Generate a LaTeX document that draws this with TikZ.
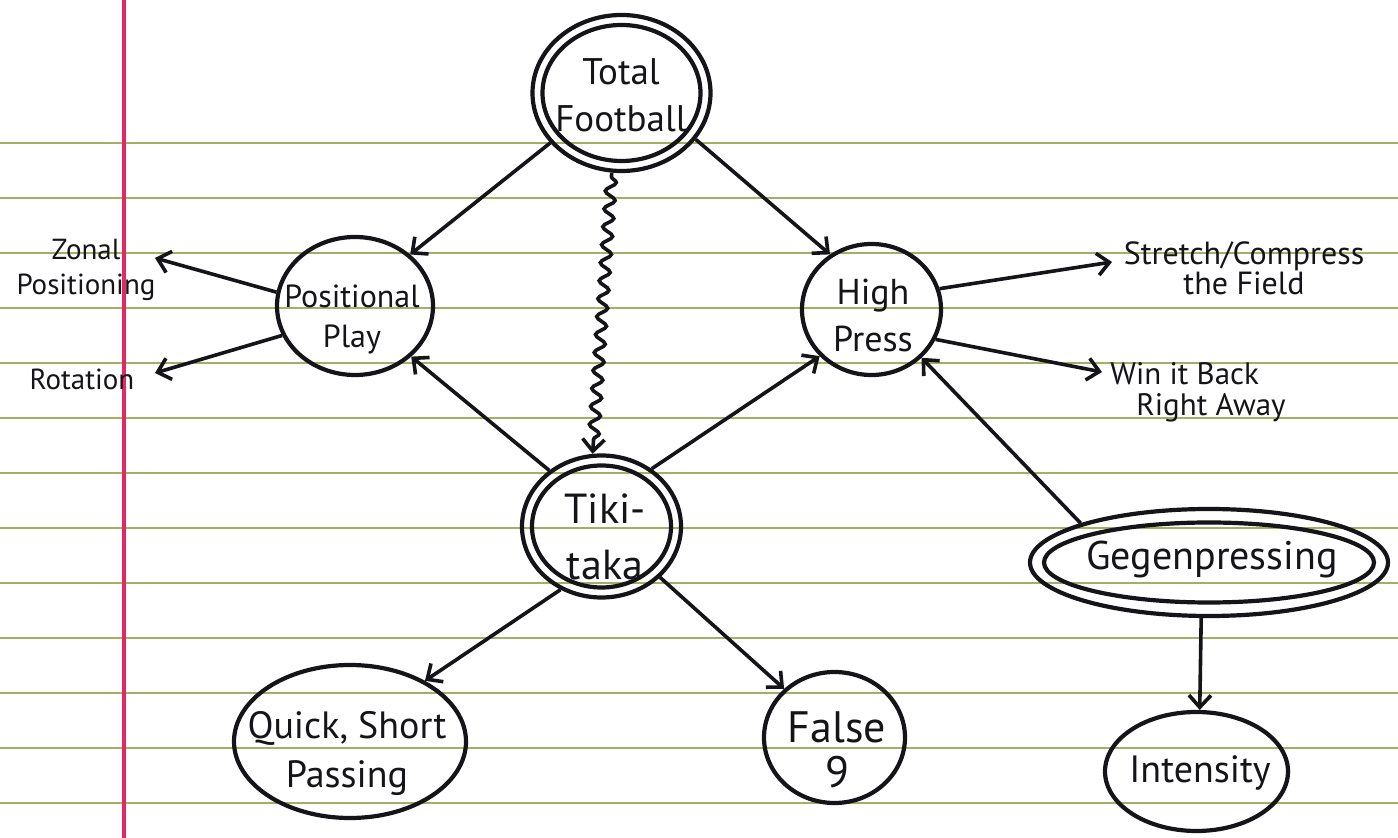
\documentclass[tikz,border=0pt]{standalone}
\usepackage{fontspec}
\setmainfont{PT Sans}
\usetikzlibrary{shapes.geometric,arrows.meta,decorations.pathmorphing}
\definecolor{rulecol}{RGB}{165,174,100}
\definecolor{margincol}{RGB}{228,40,100}
\definecolor{ink}{RGB}{20,20,25}
\begin{document}
\begin{tikzpicture}[x=0.5pt,y=-0.5pt,
  bubble/.style={ellipse, draw=ink, line width=2.1pt, inner sep=0pt},
  txt/.style={text=ink, align=center, inner sep=0pt},
  link/.style={draw=ink, line width=1.8pt, -{Straight Barb[length=6pt,width=11pt]}},
  ruleline/.style={draw=rulecol, line width=1pt},
  marginline/.style={draw=margincol, line width=2pt}
 ]
\fill[white] (0,0) rectangle (1398,838);
\useasboundingbox (0,0) rectangle (1398,838);
% ruled paper
\foreach \k in {0,...,12} \draw[ruleline] (0,143+55*\k) -- (1398,143+55*\k);
\draw[marginline] (124,0) -- (124,838);

% nodes (shapes)
\node[bubble, minimum width=89pt, minimum height=78pt] (TF) at (621.5,93) {};
\node[bubble, minimum width=79pt, minimum height=68pt] (TFi) at (621.5,93) {};
\node[bubble, minimum width=79.5pt, minimum height=71pt] (TT) at (601.5,526.5) {};
\node[bubble, minimum width=69.5pt, minimum height=61pt] (TTi) at (601.5,526.5) {};
\node[bubble, minimum width=179pt, minimum height=53.5pt] (GP) at (1209,562.5) {};
\node[bubble, minimum width=165pt, minimum height=40pt] (GPi) at (1209,562.5) {};
\node[bubble, minimum width=78pt, minimum height=69pt] (PP) at (355,306) {};
\node[bubble, minimum width=69.5pt, minimum height=65.5pt] (HP) at (871.5,309.5) {};
\node[bubble, minimum width=116pt, minimum height=76.5pt] (QSP) at (350,741.5) {};
\node[bubble, minimum width=70.5pt, minimum height=65.5pt] (F9) at (834.5,737.5) {};
\node[bubble, minimum width=91.5pt, minimum height=59.5pt] (INT) at (1196.5,771.5) {};

% texts
\node[txt, font={\fontsize{18.5}{23.5}\selectfont}] (TFt) at (621,95) {Total\\Football};
\node[txt, font={\fontsize{21}{28}\selectfont}] (TTt) at (605,537) {Tiki-\\taka};
\node[txt, font={\fontsize{16}{20}\selectfont}] (PPt) at (352,319) {Positional\\Play};
\node[txt, font={\fontsize{18}{23.5}\selectfont}] (HPt) at (873,315) {High\\Press};
\node[txt, font={\fontsize{19}{24.5}\selectfont}] (QSPt) at (347,754) {Quick, Short\\Passing};
\node[txt, font={\fontsize{22}{22.5}\selectfont}] (F9t) at (837,750) {False\\9};
\node[txt, font={\fontsize{20}{24}\selectfont}] (GPt) at (1212,560) {Gegenpressing};
\node[txt, font={\fontsize{19}{24}\selectfont}] (INTt) at (1200,773) {Intensity};

\node[txt, font={\fontsize{14.5}{17.5}\selectfont}] (ZP) at (86,270) {Zonal\\Positioning};
\node[txt, font={\fontsize{14.5}{17.5}\selectfont}] (ROT) at (82,379) {Rotation};
\node[txt, font={\fontsize{16}{15}\selectfont}] (SCF) at (1244,268) {Stretch/Compress\\the Field};
\node[txt, align=left, anchor=west, font={\fontsize{15.5}{15.5}\selectfont}] (WIN) at (1110,392) {Win it Back\\\hspace*{13pt}Right Away};

\coordinate (zpTip) at (155,258);
\coordinate (rotTip) at (155,373);
\coordinate (scfTip) at (1112,262);
\coordinate (winTip) at (1102,372);

% connectors
\draw[link] (TF.215) -- (PP.43);
\draw[link] (TF.328) -- (HP.127);
\draw[link, decorate, decoration={snake, amplitude=2.6pt, segment length=9pt, pre length=2pt, post length=6pt}] (TF.263) -- (TT.97);
\draw[link] (TT.133) -- (PP.318);
\draw[link] (TT.49) -- (HP.222);
\draw[link] (TT.237) -- (QSP.39);
\draw[link] (TT.319) -- (F9.136);
\draw[link] (GP.163) -- (HP.316);
\draw[link] (GP.262) -- (INT.87);
\draw[link] (PP.170) -- (zpTip);
\draw[link] (PP.202) -- (rotTip);
\draw[link] (HP.17) -- (scfTip);
\draw[link] (HP.335) -- (winTip);
\end{tikzpicture}
\end{document}
